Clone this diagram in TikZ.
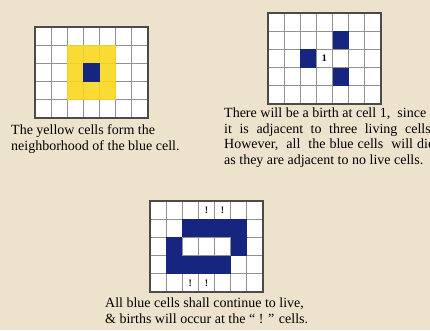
\documentclass[tikz,border=0pt]{standalone}
\usepackage{fontspec}
\setmainfont{Liberation Serif}
\usetikzlibrary{positioning}
\definecolor{paper}{RGB}{237,226,204}
\definecolor{cellblue}{RGB}{22,38,128}
\definecolor{cellyellow}{RGB}{250,214,30}
\definecolor{gridgray}{RGB}{145,145,145}
\definecolor{framegray}{RGB}{75,75,75}
\tikzset{
    board/.style={x=16.14pt, y=-18.2pt},
    gridline/.style={draw=gridgray, line width=1pt},
    frame/.style={draw=framegray, line width=1.2pt},
    livecell/.style={fill=cellblue},
    nbcell/.style={fill=cellyellow, fill opacity=.9},
    cellnum/.style={font=\fontsize{10}{10}\selectfont\bfseries, inner sep=0pt},
    caption/.style={font=\fontsize{14}{16}\selectfont, inner sep=0pt, anchor=base west, align=left}
}

\begin{document}
\begin{tikzpicture}[x=1pt, y=-1pt]
    \fill[paper] (0,0) rectangle (430,330);
    \useasboundingbox (0,0) rectangle (430,330);

    % neighborhood
    \begin{scope}[shift={(35,27)}, board]
        \fill[white] (0,0) rectangle (7,5);
        \foreach \i in {1,...,6} \draw[gridline] (\i,0) -- (\i,5);
        \foreach \j in {1,...,4} \draw[gridline] (0,\j) -- (7,\j);
        \fill[nbcell] (2,1) rectangle (5,4);
        \fill[livecell] (3,2) rectangle (4,3);
        \draw[frame] (0,0) rectangle (7,5);
    \end{scope}

    % birth at cell 1
    \begin{scope}[shift={(268,13)}, board]
        \fill[white] (0,0) rectangle (7,5);
        \foreach \i in {1,...,6} \draw[gridline] (\i,0) -- (\i,5);
        \foreach \j in {1,...,4} \draw[gridline] (0,\j) -- (7,\j);
        \foreach \c/\r in {4/1, 2/2, 4/3}
            \fill[livecell] (\c,\r) rectangle ++(1,1);
        \node (one) [cellnum] at (3.5,2.5) {1};
        \draw[frame] (0,0) rectangle (7,5);
    \end{scope}

    % still alive
    \begin{scope}[shift={(150,201)}, board]
        \fill[white] (0,0) rectangle (7,5);
        \foreach \i in {1,...,6} \draw[gridline] (\i,0) -- (\i,5);
        \foreach \j in {1,...,4} \draw[gridline] (0,\j) -- (7,\j);
        \foreach \c/\r in {2/1, 3/1, 4/1, 5/1, 1/2, 5/2, 1/3, 2/3, 3/3, 4/3}
            \fill[livecell] (\c,\r) rectangle ++(1,1);
        \foreach \c/\r [count=\k] in {3/0, 4/0, 2/4, 3/4}
            \node (bang\k) [cellnum] at (\c+.5,\r+.5) {!};
        \draw[frame] (0,0) rectangle (7,5);
    \end{scope}

    \node (nbtext) [caption, font=\fontsize{14}{16.7}\selectfont] at (11,150.7)
        {The yellow cells form the\\neighborhood of the blue cell.};
    \node (birthtext) [caption, font=\fontsize{14}{15.6}\selectfont, text width=210pt, align=justify] at (224,117.5)
        {There will be a birth at cell 1,\ \ since\hspace*{8pt}\linebreak
         it is adjacent to three living cells.\linebreak
         However,\ \ all\ \ the blue cells\ \ will die\linebreak
         as they are adjacent to no live cells.};
    \node (livetext) [caption, font=\fontsize{14}{15.4}\selectfont] at (105,323)
        {All blue cells shall continue to live,\\\& births will occur at the “ ! ” cells.};
\end{tikzpicture}
\end{document}
